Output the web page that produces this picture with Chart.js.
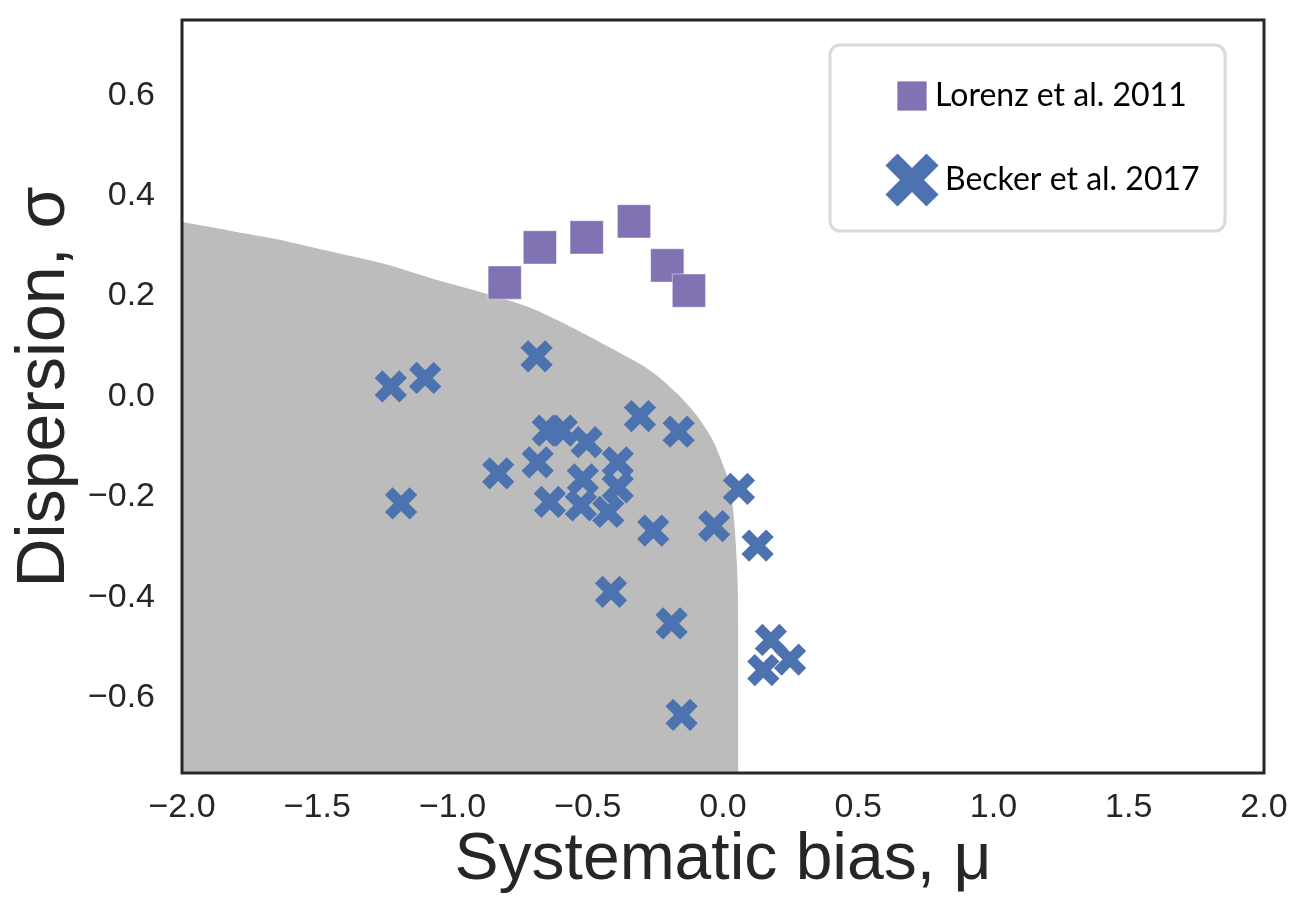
<!DOCTYPE html>
<html>
<head>
<meta charset="utf-8">
<title>Dispersion vs systematic bias</title>
<script src="https://cdn.jsdelivr.net/npm/chart.js@4.4.1/dist/chart.umd.min.js"></script>
<style>
    html, body { margin: 0; padding: 0; background: #fff; }
    #wrap { width: 1291px; height: 902px; }
</style>
</head>
<body>
<div id="wrap"><canvas id="biasChart" width="1291" height="902"></canvas></div>
<script>
// values
var lorenzBias = [-0.807, -0.677, -0.504, -0.329, -0.206, -0.126];
var lorenzDisp = [0.227, 0.297, 0.317, 0.349, 0.261, 0.211];

var beckerBias = [-1.228, -1.101, -0.689, -1.190, -0.831, -0.685, -0.648, -0.596, -0.504, -0.307,
                  -0.164, -0.640, -0.518, -0.525, -0.389, -0.389, -0.424, -0.258, -0.033, 0.059,
                  0.128, -0.414, -0.190, -0.153, 0.177, 0.248, 0.149];
var beckerDisp = [0.020, 0.037, 0.080, -0.213, -0.153, -0.131, -0.068, -0.068, -0.091, -0.039,
                  -0.070, -0.210, -0.165, -0.217, -0.131, -0.181, -0.230, -0.267, -0.258, -0.184,
                  -0.297, -0.389, -0.452, -0.634, -0.485, -0.524, -0.545];

// upper edge of the grey region
var regionBias = [-2.0, -1.76, -1.62, -1.41, -1.25, -1.05, -0.87, -0.70, -0.56, -0.42, -0.27,
                  -0.17, -0.10, -0.04, 0.0, 0.02, 0.035, 0.044, 0.054, 0.057, 0.057];
var regionDisp = [0.348, 0.324, 0.310, 0.284, 0.264, 0.231, 0.204, 0.174, 0.138, 0.098, 0.052,
                  0.006, -0.036, -0.085, -0.136, -0.167, -0.215, -0.267, -0.366, -0.505, -0.75];

var xTicks = [-2.0, -1.5, -1.0, -0.5, 0.0, 0.5, 1.0, 1.5, 2.0];
var yTicks = [-0.6, -0.4, -0.2, 0.0, 0.2, 0.4, 0.6];

var seriesNames = ['Lorenz et al. 2011', 'Becker et al. 2017'];

function toPoints(xs, ys) {
    var pts = [];
    for (var i = 0; i < xs.length; i++) pts.push({x: xs[i], y: ys[i]});
    return pts;
}

function fmt(v) {
    var s = Math.abs(v).toFixed(1);
    return v < -1e-9 ? '\u2212' + s : s;
}

// keep the plot box where it is: no automatic label padding
function noPad(scale) {
    scale.paddingTop = 0;
    scale.paddingBottom = 0;
    scale.paddingLeft = 0;
    scale.paddingRight = 0;
}

var fontName = "'Liberation Sans', Arial, sans-serif";
var tickFont = {family: fontName, size: 34};

// dark box round the plot
var framePlugin = {
    id: 'frame',
    afterDatasetsDraw: function(chart) {
        var ca = chart.chartArea, ctx = chart.ctx;
        ctx.save();
        ctx.strokeStyle = '#262626';
        ctx.lineWidth = 3;
        ctx.strokeRect(ca.left, ca.top, ca.right - ca.left, ca.bottom - ca.top);
        ctx.restore();
    }
};

// legend box in the upper right corner
var legendPlugin = {
    id: 'boxLegend',
    afterDraw: function(chart) {
        var ca = chart.chartArea, ctx = chart.ctx;
        var x0 = ca.right - 434, y0 = ca.top + 25, w = 395, h = 186, r = 10;
        ctx.save();
        ctx.beginPath();
        ctx.moveTo(x0 + r, y0);
        ctx.arcTo(x0 + w, y0, x0 + w, y0 + h, r);
        ctx.arcTo(x0 + w, y0 + h, x0, y0 + h, r);
        ctx.arcTo(x0, y0 + h, x0, y0, r);
        ctx.arcTo(x0, y0, x0 + w, y0, r);
        ctx.closePath();
        ctx.fillStyle = '#fff';
        ctx.fill();
        ctx.lineWidth = 3;
        ctx.strokeStyle = '#dadada';
        ctx.stroke();

        var items = [
            {ds: chart.data.datasets[0], cx: x0 + 82, cy: y0 + 51, r: 21, bw: 1, tx: x0 + 105},
            {ds: chart.data.datasets[1], cx: x0 + 82, cy: y0 + 135, r: 29, bw: 17, tx: x0 + 115}
        ];
        items.forEach(function(it) {
            ctx.fillStyle = it.ds.backgroundColor;
            ctx.strokeStyle = it.ds.borderColor;
            ctx.lineWidth = it.bw;
            Chart.helpers.drawPoint(ctx, {pointStyle: it.ds.pointStyle, radius: it.r, borderWidth: it.bw, rotation: 0}, it.cx, it.cy);
            ctx.fillStyle = '#000';
            ctx.font = "32px Lato, 'Open Sans', sans-serif";
            ctx.textAlign = 'left';
            ctx.textBaseline = 'middle';
            ctx.fillText(it.ds.label, it.tx, it.cy);
        });
        ctx.restore();
    }
};

var ctx = document.getElementById('biasChart');
var biasChart = new Chart(ctx, {
    type: 'scatter',
    data: {
        datasets: [{
            label: seriesNames[0],
            data: toPoints(lorenzBias, lorenzDisp),
            pointStyle: 'rect',
            pointRadius: 23.5,
            backgroundColor: '#8172b3',
            borderColor: 'rgba(255,255,255,0.45)',
            borderWidth: 1,
            order: 1
        }, {
            label: seriesNames[1],
            data: toPoints(beckerBias, beckerDisp),
            pointStyle: 'crossRot',
            pointRadius: 17.4,
            backgroundColor: '#4c72b0',
            borderColor: '#4c72b0',
            borderWidth: 10.8,
            order: 2
        }, {
            label: 'region',
            data: toPoints(regionBias, regionDisp),
            showLine: true,
            fill: 'start',
            tension: 0.3,
            pointRadius: 0,
            borderWidth: 0,
            borderColor: '#bcbcbc',
            backgroundColor: '#bcbcbc',
            order: 10
        }]
    },
    options: {
        responsive: false,
        animation: false,
        devicePixelRatio: 1,
        events: [],
        layout: {autoPadding: false, padding: {left: 0, top: 20, right: 27, bottom: 0}},
        plugins: {
            legend: {display: false},
            tooltip: {enabled: false}
        },
        scales: {
            x: {
                type: 'linear',
                min: -2,
                max: 2,
                grid: {display: false, drawTicks: false},
                border: {display: false},
                afterBuildTicks: function(scale) {
                    scale.ticks = xTicks.map(function(v) { return {value: v}; });
                },
                afterFit: function(scale) { scale.height = 129; noPad(scale); },
                ticks: {
                    color: '#262626',
                    font: tickFont,
                    padding: 14,
                    maxRotation: 0,
                    autoSkip: false,
                    callback: function(v) { return fmt(v); }
                },
                title: {
                    display: true,
                    text: 'Systematic bias, \u03bc',
                    color: '#262626',
                    font: {family: fontName, size: 66, lineHeight: 1},
                    padding: {top: 0, bottom: 8}
                }
            },
            y: {
                type: 'linear',
                min: -0.75,
                max: 0.75,
                grid: {display: false, drawTicks: false},
                border: {display: false},
                afterBuildTicks: function(scale) {
                    scale.ticks = yTicks.map(function(v) { return {value: v}; });
                },
                afterFit: function(scale) { scale.width = 182; noPad(scale); },
                ticks: {
                    color: '#262626',
                    font: tickFont,
                    padding: 27,
                    autoSkip: false,
                    callback: function(v) { return fmt(v); }
                },
                title: {
                    display: true,
                    text: ' Dispersion, \u03c3',
                    color: '#262626',
                    font: {family: fontName, size: 68, lineHeight: 1},
                    padding: {top: 11, bottom: 0}
                }
            }
        }
    },
    plugins: [framePlugin, legendPlugin]
});
</script>
</body>
</html>
